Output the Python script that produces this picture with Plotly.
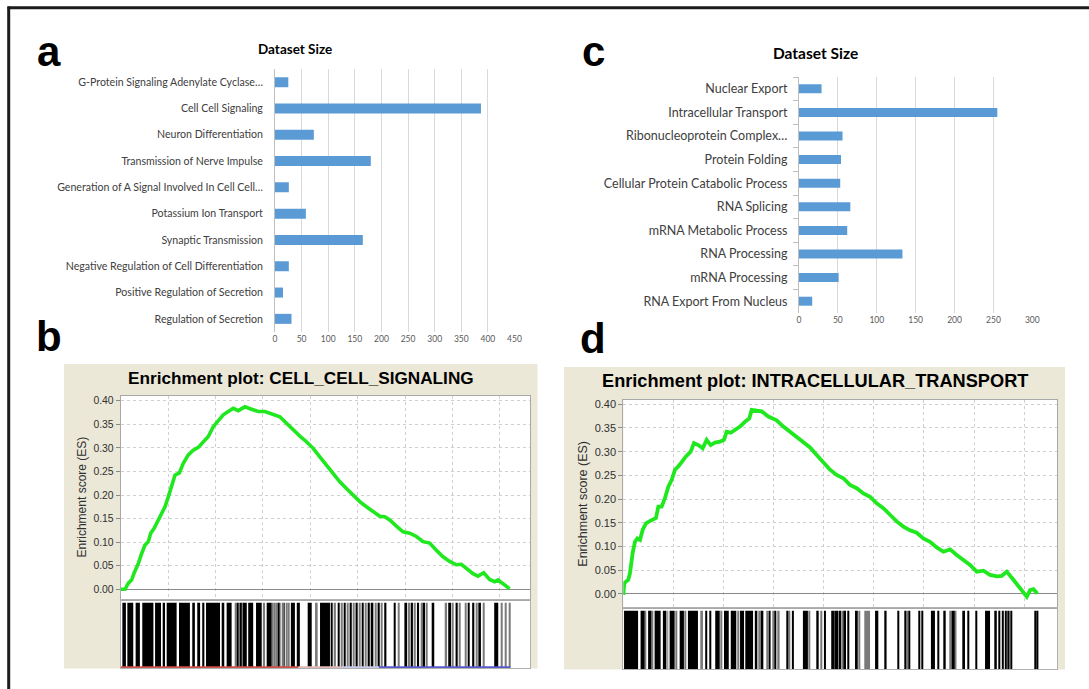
import plotly.graph_objects as go

W, H = 1089, 689

# ---------------- data: panel a ----------------
a_categories = [
    "G-Protein Signaling Adenylate Cyclase…",
    "Cell Cell Signaling",
    "Neuron Differentiation",
    "Transmission of Nerve Impulse",
    "Generation of A Signal Involved In Cell Cell…",
    "Potassium Ion Transport",
    "Synaptic Transmission",
    "Negative Regulation of Cell Differentiation",
    "Positive Regulation of Secretion",
    "Regulation of Secretion",
]
a_sizes = [25, 387, 73, 180, 26, 58, 165, 26, 15, 31]

# ---------------- data: panel c ----------------
c_categories = [
    "Nuclear Export",
    "Intracellular Transport",
    "Ribonucleoprotein Complex…",
    "Protein Folding",
    "Cellular Protein Catabolic Process",
    "RNA Splicing",
    "mRNA Metabolic Process",
    "RNA Processing",
    "mRNA Processing",
    "RNA Export From Nucleus",
]
c_sizes = [29, 255, 56, 54, 53, 66, 62, 133, 51, 17]

# ---------------- data: panel b (running ES) ----------------
b_rank = [0, 183, 323, 464, 562, 745, 885, 1026, 1166, 1265, 1405, 1546, 1728, 1869,
          2009, 2150, 2290, 2473, 2641, 2852, 3063, 3274, 3484, 3695, 3906, 4117, 4327,
          4538, 4749, 4960, 5241, 5522, 5803, 6084, 6435, 6716, 6997, 7278, 7559, 7840,
          8121, 8402, 8683, 8964, 9245, 9526, 9807, 10088, 10369, 10650, 10931, 11142,
          11352, 11633, 11914, 12195, 12476, 12757, 13038, 13319, 13600, 13881, 14162,
          14373, 14584, 14865, 15076, 15315, 15567, 15778, 15919, 16129, 16410]
b_es = [0.000, 0.000, 0.013, 0.020, 0.034, 0.055, 0.076, 0.094, 0.101, 0.119, 0.129,
        0.143, 0.158, 0.175, 0.196, 0.218, 0.242, 0.247, 0.267, 0.285, 0.295, 0.301,
        0.313, 0.324, 0.345, 0.359, 0.370, 0.377, 0.384, 0.379, 0.387, 0.382, 0.377,
        0.377, 0.372, 0.366, 0.352, 0.338, 0.325, 0.313, 0.299, 0.281, 0.264, 0.246,
        0.228, 0.214, 0.200, 0.186, 0.175, 0.165, 0.155, 0.154, 0.147, 0.134, 0.122,
        0.119, 0.112, 0.101, 0.098, 0.083, 0.069, 0.059, 0.052, 0.053, 0.045, 0.033,
        0.028, 0.035, 0.021, 0.016, 0.020, 0.011, 0.001]

# gene-set hit positions (rank start, rank end)
b_hits_black = [(70, 220), (280, 530), (630, 810), (910, 1380), (1450, 1700), (1810, 1870),
                (1940, 2360), (2460, 2920), (3020, 3130), (3230, 3350), (3440, 3530),
                (3600, 4190), (4290, 4370), (4470, 4680), (4920, 4960), (5030, 5070),
                (5150, 5320), (5380, 5590), (5710, 5950), (6160, 6370), (6630, 6670),
                (6880, 6920), (7180, 7350), (7430, 7560), (7890, 8060), (8410, 8830),
                (8870, 8930), (9160, 9240), (9420, 9490), (9660, 9750), (9910, 10000),
                (10170, 10250), (10420, 10510), (10590, 10660), (10840, 10930),
                (11120, 11210), (11520, 11600), (11970, 12080), (12250, 12330),
                (12500, 12590), (12780, 12840), (13150, 13230), (13820, 13940),
                (14130, 14220), (14670, 14720), (14830, 14920), (15090, 15200),
                (15760, 15930)]
b_hits_gray = [(4830, 4870), (4990, 5010), (5080, 5110), (6000, 6090), (6380, 6420),
               (6460, 6500), (6550, 6590), (6710, 6750), (6800, 6840), (6980, 7020),
               (7050, 7090), (8200, 8310), (9000, 9080), (9290, 9370), (9550, 9600),
               (9800, 9860), (10050, 10110), (10310, 10360), (10730, 10760),
               (10980, 11040), (11690, 11740), (12130, 12210), (12390, 12450),
               (12670, 12720), (12890, 12950), (13710, 13770), (13990, 14050),
               (14290, 14340), (14530, 14580), (14980, 15030), (15300, 15340),
               (16040, 16100), (16210, 16270), (16380, 16440)]
# ranked-list metric colour strip (rank start, rank end, colour)
b_metric_strip = [(0, 7500, "#d0504a"), (7500, 9300, "#e4b8b8"),
                  (9300, 10900, "#c8c8e8"), (10900, 16450, "#5a5ad0")]

# ---------------- data: panel d (running ES) ----------------
d_rank = [0, 40, 200, 266, 373, 466, 559, 666, 772, 905, 1038, 1171, 1304, 1398, 1531,
          1664, 1797, 1930, 2063, 2196, 2329, 2502, 2689, 2822, 2995, 3168, 3328, 3487,
          3660, 3860, 4020, 4126, 4286, 4459, 4659, 4858, 5031, 5124, 5324, 5524, 5790,
          6123, 6389, 6655, 6921, 7187, 7454, 7720, 7986, 8252, 8518, 8785, 9051, 9317,
          9583, 9849, 10116, 10382, 10648, 10914, 11180, 11447, 11713, 11979, 12245,
          12511, 12778, 13044, 13310, 13576, 13842, 14109, 14375, 14641, 14907, 15107,
          15307, 15573, 15839, 16106, 16239, 16372, 16532]
d_es = [-0.002, 0.023, 0.030, 0.044, 0.086, 0.110, 0.117, 0.114, 0.135, 0.149, 0.153,
        0.156, 0.160, 0.184, 0.184, 0.202, 0.226, 0.240, 0.262, 0.269, 0.279, 0.290,
        0.300, 0.318, 0.314, 0.307, 0.325, 0.314, 0.319, 0.321, 0.325, 0.342, 0.340,
        0.346, 0.353, 0.363, 0.370, 0.388, 0.387, 0.385, 0.374, 0.366, 0.353, 0.342,
        0.332, 0.321, 0.309, 0.293, 0.277, 0.262, 0.251, 0.244, 0.230, 0.223, 0.212,
        0.205, 0.191, 0.181, 0.167, 0.153, 0.142, 0.134, 0.129, 0.117, 0.110, 0.098,
        0.089, 0.094, 0.082, 0.072, 0.061, 0.047, 0.049, 0.040, 0.037, 0.038, 0.047,
        0.030, 0.012, -0.006, 0.008, 0.010, 0.001]

d_hits_black = [(30, 590), (690, 850), (990, 1120), (1250, 1490), (1580, 1720),
                (1850, 2050), (2250, 2420), (2580, 2980), (3270, 3350), (3450, 3510),
                (3670, 3850), (4020, 4210), (4290, 4510), (4660, 4820), (4870, 5180),
                (5250, 5350), (5480, 5590), (5800, 5880), (6040, 6100), (6510, 6570),
                (6730, 6810), (7170, 7370), (7740, 7800), (8010, 8090), (8300, 8440),
                (8450, 8590), (8610, 8690), (8820, 8890), (8960, 9020), (9250, 9360),
                (10050, 10180), (10450, 10510), (10940, 11010), (11220, 11270),
                (11400, 11450), (11780, 11840), (11910, 11960), (12280, 12440),
                (12550, 12600), (12810, 12870), (13100, 13230), (13570, 13640),
                (13750, 13800), (14070, 14120), (14440, 14640), (14840, 14910),
                (15000, 15050), (15110, 15190), (15230, 15310), (15350, 15420),
                (15450, 15510), (16410, 16460), (16510, 16570)]
d_hits_gray = [(870, 900), (1150, 1190), (1760, 1790), (2080, 2120), (2450, 2490),
               (3110, 3180), (3900, 3940), (4560, 4600), (5390, 5430), (5710, 5780),
               (5950, 5990), (6180, 6240), (6610, 6650), (7400, 7440), (7880, 7930),
               (8720, 8760), (9400, 9440), (9620, 9850), (11310, 11350), (13040, 13080),
               (13250, 13300)]

es_ticks = [0.00, 0.05, 0.10, 0.15, 0.20, 0.25, 0.30, 0.35, 0.40]

# ---------------- helpers for layout positions ----------------
def fx(px):
    return px / W

def fy(py):
    return 1 - py / H

BAR_BLUE = "#5b9bd5"
GRID = "#d9d9d9"
BEIGE = "#ebe8d8"
BAR_FONT = "Lato, Open Sans, sans-serif"
JFONT = "Liberation Sans, Arial, sans-serif"

fig = go.Figure()

# panel a bars
fig.add_trace(go.Bar(orientation="h", y=a_categories, x=a_sizes, width=0.38,
                     marker=dict(color=BAR_BLUE, line_width=0), xaxis="x", yaxis="y"))
# panel c bars
fig.add_trace(go.Bar(orientation="h", y=c_categories, x=c_sizes, width=0.38,
                     marker=dict(color=BAR_BLUE, line_width=0), xaxis="x2", yaxis="y2"))

# panel b
fig.add_trace(go.Scatter(x=b_rank, y=b_es, mode="lines",
                         line=dict(color="#1fe81f", width=3.6), xaxis="x3", yaxis="y3"))

def hit_bars(hits, color, xa, ya):
    return go.Bar(x=[(s + e) / 2 for s, e in hits], width=[e - s for s, e in hits],
                  y=[1] * len(hits), base=0, marker=dict(color=color, line_width=0),
                  xaxis=xa, yaxis=ya)

fig.add_trace(hit_bars(b_hits_gray, "#7a7a7a", "x4", "y4"))
fig.add_trace(hit_bars(b_hits_black, "#000000", "x4", "y4"))
for s, e, col in b_metric_strip:
    fig.add_trace(go.Scatter(x=[s, e], y=[-0.006, -0.006], mode="lines",
                             line=dict(color=col, width=2), xaxis="x4", yaxis="y4"))

# panel d
fig.add_trace(go.Scatter(x=d_rank, y=d_es, mode="lines",
                         line=dict(color="#1fe81f", width=3.8), xaxis="x5", yaxis="y5"))
fig.add_trace(hit_bars(d_hits_gray, "#7a7a7a", "x6", "y6"))
fig.add_trace(hit_bars(d_hits_black, "#000000", "x6", "y6"))

# ---------------- axes ----------------
bar_x_common = dict(showgrid=True, gridcolor=GRID, gridwidth=1, zeroline=False,
                    showline=False, ticks="", tickfont=dict(family=BAR_FONT, size=8.5, color="#595959"))

layout = dict(
    width=W, height=H, margin=dict(l=0, r=0, t=0, b=0, autoexpand=False),
    paper_bgcolor="white", plot_bgcolor="white", showlegend=False,
    barmode="overlay",
    xaxis=dict(domain=[fx(275), fx(514.5)], range=[0, 450], dtick=50, anchor="y",
               **bar_x_common),
    yaxis=dict(domain=[fy(332), fy(69)], anchor="x", type="category",
               autorange="reversed", showgrid=False, showline=True,
               linecolor="#bfbfbf", ticks="", ticklabelstandoff=9,
               tickfont=dict(family=BAR_FONT, size=10.6, color="#404040")),
    xaxis2=dict(domain=[fx(799), fx(1032.3)], range=[0, 300], dtick=50, anchor="y2",
                **bar_x_common),
    yaxis2=dict(domain=[fy(313), fy(77)], anchor="x2", type="category",
                autorange="reversed", showgrid=False, showline=True,
                linecolor="#bfbfbf", ticks="outside", tickson="boundaries",
                ticklen=5, tickcolor="#bfbfbf", ticklabelstandoff=8,
                tickfont=dict(family=BAR_FONT, size=12.5, color="#404040")),
)

es_x_common = dict(showticklabels=False, ticks="", showgrid=True, gridcolor="#cfcfcf",
                   griddash="dot", dtick=2000, tick0=0, zeroline=False,
                   showline=True, mirror=True, linecolor="#a8a8a8", linewidth=1)

def es_y(size):
    return dict(tickvals=es_ticks, tickformat=".2f", showgrid=True, gridcolor="#cfcfcf",
                griddash="dot", zeroline=True, zerolinecolor="#8a8a8a", zerolinewidth=1,
                showline=True, mirror=True, linecolor="#a8a8a8", linewidth=1,
                ticks="outside", ticklen=4, tickcolor="#8a8a8a",
                tickfont=dict(family=JFONT, size=size, color="#303030"))

bc_common = dict(showticklabels=False, ticks="", showgrid=False, zeroline=False,
                 showline=True, mirror=True, linecolor="#b0b0b0", linewidth=1)

layout["xaxis3"] = dict(domain=[fx(120.7), fx(530)], range=[0, 17270], anchor="y3", **es_x_common)
layout["yaxis3"] = dict(domain=[fy(600), fy(396)], range=[-0.0227, 0.410], anchor="x3", **es_y(10.4))
layout["xaxis4"] = dict(domain=[fx(120.7), fx(530)], range=[0, 17270], anchor="y4", **bc_common)
layout["yaxis4"] = dict(domain=[fy(668), fy(600)], range=[-0.016, 1.042], anchor="x4", **bc_common)

layout["xaxis5"] = dict(domain=[fx(623.3), fx(1057.3)], range=[0, 17325], anchor="y5", **es_x_common)
layout["yaxis5"] = dict(domain=[fy(608.3), fy(400)], range=[-0.0303, 0.409], anchor="x5", **es_y(11))
layout["xaxis6"] = dict(domain=[fx(623.3), fx(1057.3)], range=[0, 17325], anchor="y6", **bc_common)
layout["yaxis6"] = dict(domain=[fy(669), fy(608.3)], range=[0, 1.041], anchor="x6", **bc_common)

fig.update_layout(**layout)

# ---------------- decorations ----------------
def rect(x0, x1, y0, y1, color):
    return dict(type="rect", xref="paper", yref="paper", x0=fx(x0), x1=fx(x1),
                y0=fy(y1), y1=fy(y0), fillcolor=color, line_width=0, layer="below")

shapes = [
    # beige GSEA panels
    rect(64, 537.5, 364, 668.5, BEIGE),
    rect(564, 1065, 367, 669.5, BEIGE),
    # white plotting areas inside them
    rect(120.7, 530, 396, 668, "white"),
    rect(623.3, 1057.3, 400, 669, "white"),
    # outer frame
    dict(type="line", xref="paper", yref="paper", x0=fx(7.5), x1=1, y0=fy(7.7), y1=fy(7.7),
         line=dict(color="#1c1c1c", width=3)),
    dict(type="line", xref="paper", yref="paper", x0=fx(8.7), x1=fx(8.7), y0=0, y1=fy(6.5),
         line=dict(color="#1c1c1c", width=3)),
]
fig.update_layout(shapes=shapes)

def ann(text, px, py, size, family, bold=False, angle=0, color="black"):
    return dict(text=f"<b>{text}</b>" if bold else text, x=fx(px), y=fy(py),
                xref="paper", yref="paper", showarrow=False, xanchor="center",
                yanchor="middle", textangle=angle,
                font=dict(family=family, size=size, color=color))

annotations = [
    ann("a", 49, 51, 42, JFONT, bold=True),
    ann("b", 49, 337, 42, JFONT, bold=True),
    ann("c", 593, 51, 42, JFONT, bold=True),
    ann("d", 593, 338, 42, JFONT, bold=True),
    ann("Dataset Size", 295, 49.5, 13.5, BAR_FONT, bold=True),
    ann("Dataset Size", 815, 53, 15.5, BAR_FONT, bold=True),
    ann("Enrichment plot: CELL_CELL_SIGNALING", 300.8, 378, 17.2, JFONT, bold=True),
    ann("Enrichment plot: INTRACELLULAR_TRANSPORT", 815, 381, 18.2, JFONT, bold=True),
    ann("Enrichment score (ES)", 81.7, 496.7, 12, JFONT, angle=-90, color="#303030"),
    ann("Enrichment score (ES)", 582.7, 504, 12.5, JFONT, angle=-90, color="#303030"),
]
fig.update_layout(annotations=annotations)

fig.write_html("out.html", config={"displayModeBar": False},
               post_script="document.body.style.margin='0px';document.body.style.overflow='hidden';")
